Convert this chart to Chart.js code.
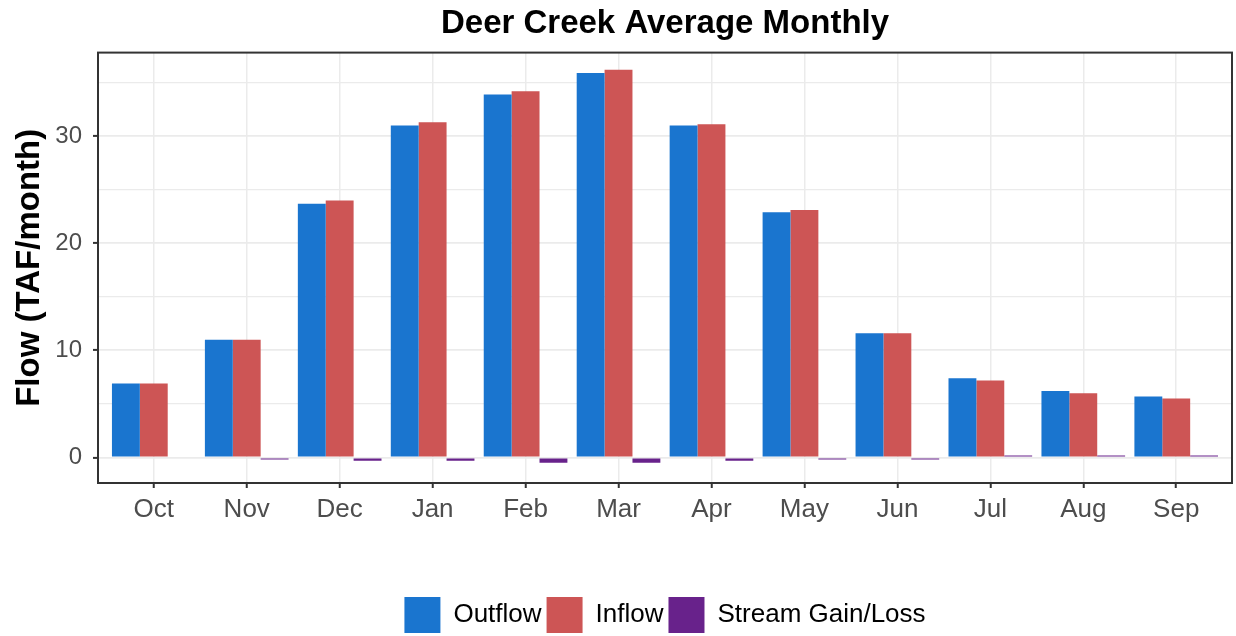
<!DOCTYPE html>
<html>
<head>
<meta charset="utf-8">
<script src="https://cdn.jsdelivr.net/npm/chart.js@4/dist/chart.umd.min.js"></script>
<style>
  html, body { margin: 0; padding: 0; background: #fff; }
  canvas { display: block; }
</style>
</head>
<body>
<canvas id="c" width="1236" height="636"></canvas>
<script>
const months = ['Oct','Nov','Dec','Jan','Feb','Mar','Apr','May','Jun','Jul','Aug','Sep'];
const outflow = [6.9, 11.0, 23.7, 31.0, 33.9, 35.9, 31.0, 22.9, 11.6, 7.4, 6.2, 5.7];
const inflow  = [6.9, 11.0, 24.0, 31.3, 34.2, 36.2, 31.1, 23.1, 11.6, 7.2, 6.0, 5.5];
const gainLoss = [0.0, -0.18, -0.3, -0.3, -0.5, -0.5, -0.3, -0.18, -0.18, 0.18, 0.18, 0.18];
const yTickLabels = [0, 10, 20, 30];
const seriesNames = ['Outflow', 'Inflow', 'Stream Gain/Loss'];
const seriesColors = ['#1A75CF', '#CD5555', '#68228B'];

const toPoints = arr => arr.map((v, i) => ({ x: i, y: v }));

const panelBorder = {
  id: 'panelBorder',
  afterDatasetsDraw(chart) {
    const { ctx, chartArea: a } = chart;
    ctx.save();
    ctx.strokeStyle = '#333333';
    ctx.lineWidth = 2;
    ctx.strokeRect(a.left, a.top, a.right - a.left, a.bottom - a.top);
    ctx.restore();
  }
};

new Chart(document.getElementById('c'), {
  type: 'bar',
  data: {
    datasets: [
      { label: seriesNames[0], data: toPoints(outflow), backgroundColor: seriesColors[0], borderWidth: 0 },
      { label: seriesNames[1], data: toPoints(inflow), backgroundColor: seriesColors[1], borderWidth: 0 },
      { label: seriesNames[2], data: toPoints(gainLoss), backgroundColor: seriesColors[2], borderWidth: 0 }
    ]
  },
  options: {
    responsive: false,
    animation: false,
    devicePixelRatio: 1,
    layout: { padding: { left: 0, right: 4, top: 0, bottom: -7 } },
    datasets: { bar: { categoryPercentage: 0.9, barPercentage: 1.0 } },
    scales: {
      x: {
        type: 'linear',
        offset: false,
        min: -0.6,
        max: months.length - 0.4,
        afterFit: s => { s.height = 109; },
        border: { display: false },
        grid: {
          offset: false,
          color: '#EBEBEB',
          lineWidth: 1.5,
          tickLength: 5,
          tickColor: '#333333',
          tickWidth: 2
        },
        ticks: {
          stepSize: 1,
          includeBounds: false,
          autoSkip: false,
          maxRotation: 0,
          padding: 6,
          color: '#4D4D4D',
          font: { family: 'Liberation Sans, Arial, sans-serif', size: 26 },
          callback: v => months[v] !== undefined ? months[v] : ''
        }
      },
      y: {
        type: 'linear',
        min: -2.38,
        max: 37.8,
        afterFit: s => { s.width = 98; },
        border: { display: false },
        grid: {
          color: '#EBEBEB',
          lineWidth: ctx => (ctx.tick && yTickLabels.includes(ctx.tick.value)) ? 1.8 : 1.2,
          tickLength: 5,
          tickColor: ctx => (ctx.tick && yTickLabels.includes(ctx.tick.value)) ? '#333333' : 'rgba(0,0,0,0)',
          tickWidth: 2
        },
        ticks: {
          stepSize: 5,
          includeBounds: false,
          padding: 11,
          color: '#4D4D4D',
          font: { family: 'Liberation Sans, Arial, sans-serif', size: 24 },
          callback: v => yTickLabels.includes(v) ? String(v) : ''
        },
        title: {
          display: true,
          text: 'Flow (TAF/month)',
          color: '#000',
          font: { family: 'Liberation Sans, Arial, sans-serif', size: 33, weight: 'bold' },
          padding: { top: 10, bottom: 0 }
        }
      }
    },
    plugins: {
      title: {
        display: true,
        fullSize: false,
        text: 'Deer Creek Average Monthly',
        color: '#000',
        font: { family: 'Liberation Sans, Arial, sans-serif', size: 33, weight: 'bold', lineHeight: 1.2 },
        padding: { top: 4, bottom: 9 }
      },
      legend: {
        display: true,
        position: 'bottom',
        fullSize: false,
        labels: {
          boxWidth: 36,
          boxHeight: 36,
          padding: 5,
          color: '#000',
          font: { family: 'Liberation Sans, Arial, sans-serif', size: 26 }
        }
      },
      tooltip: { enabled: false }
    }
  },
  plugins: [panelBorder]
});
</script>
</body>
</html>
